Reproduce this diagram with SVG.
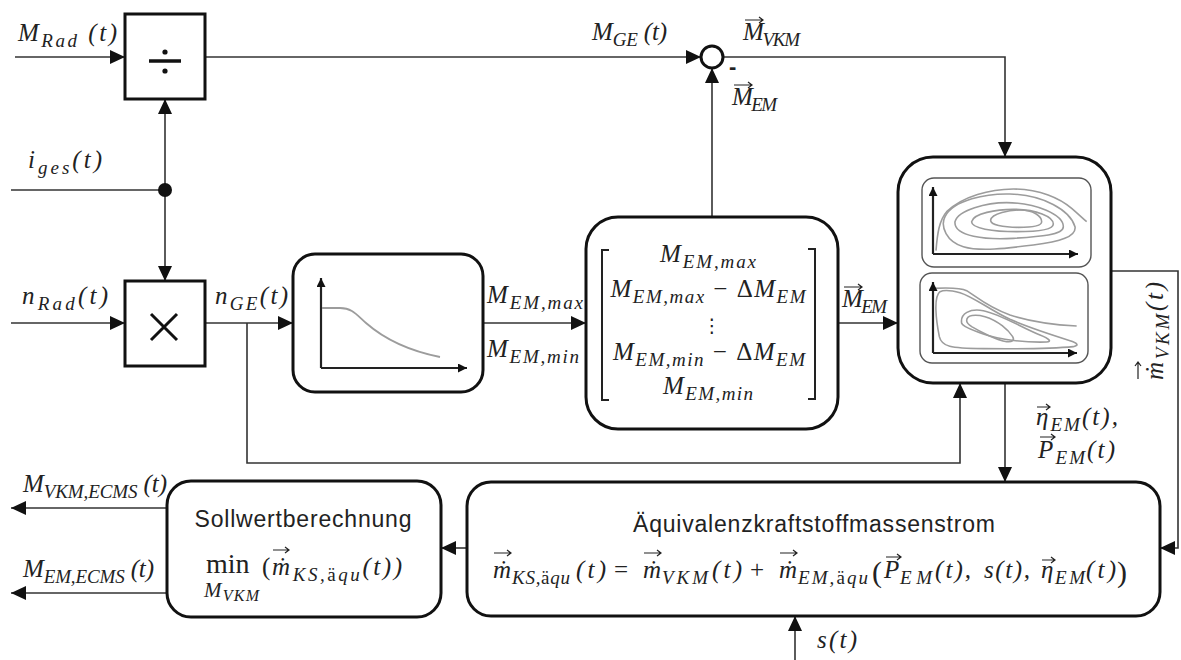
<svg xmlns="http://www.w3.org/2000/svg" width="1181" height="660" viewBox="0 0 1181 660">
  <defs>
    <marker id="ah" markerUnits="userSpaceOnUse" markerWidth="16" markerHeight="14" refX="15" refY="7" orient="auto">
      <path d="M0,0 L15,7 L0,14 Z" fill="#111"/>
    </marker>
    <marker id="as" markerUnits="userSpaceOnUse" markerWidth="10" markerHeight="9" refX="9" refY="4.5" orient="auto">
      <path d="M0,0 L9,4.5 L0,9 Z" fill="#111"/>
    </marker>
    <style>
      .box{fill:#fff;stroke:#111;stroke-width:3}
      .pan{fill:#fff;stroke:#555;stroke-width:1.4}
      .ln{fill:none;stroke:#333;stroke-width:1.6}
      .arr{marker-end:url(#ah)}
      .ax{fill:none;stroke:#222;stroke-width:2.2;marker-end:url(#as)}
      .crv{fill:none;stroke:#9c9c9c;stroke-width:1.8}
      .ct{fill:none;stroke:#9c9c9c;stroke-width:4.8}
      .mi{font-family:"Liberation Serif","DejaVu Serif",serif;font-style:italic;font-size:25px;fill:#222}
      .up{font-style:normal}
      .sb{font-size:19px}
      .big{font-size:30px}
      .sans{font-family:"Liberation Sans","DejaVu Sans",sans-serif;font-size:23px;fill:#222}
      .vec{fill:none;stroke:#222;stroke-width:1.2}
    </style>
  </defs>
  <rect width="1181" height="660" fill="#fff"/>

  <!-- signal lines -->
  <g id="connectors">
    <path class="ln arr" d="M15,57 H125"/>
    <path class="ln arr" d="M205,57 H701"/>
    <path class="ln" d="M11,190 H165"/>
    <path class="ln arr" d="M165,190 V99"/>
    <path class="ln arr" d="M165,190 V281"/>
    <circle cx="165" cy="190" r="7" fill="#111"/>
    <path class="ln arr" d="M11,323 H125"/>
    <path class="ln arr" d="M205,323 H293"/>
    <path class="ln arr" d="M247,323 V463 H960 V383"/>
    <path class="ln arr" d="M483,323 H586"/>
    <path class="ln arr" d="M712,217 V68"/>
    <path class="ln arr" d="M723,57 H1005 V157"/>
    <path class="ln arr" d="M838,323 H898"/>
    <path class="ln arr" d="M1005,383 V482"/>
    <path class="ln arr" d="M1111,271 H1178 V548 H1160"/>
    <path class="ln arr" d="M795,660 V616"/>
    <path class="ln arr" d="M467,548 H441"/>
    <path class="ln arr" d="M167,508 H11"/>
    <path class="ln arr" d="M167,593 H11"/>
  </g>

  <!-- divider -->
  <g id="divide">
    <rect class="box" x="125" y="14" width="80" height="85"/>
    <path d="M149,61 H181" stroke="#111" stroke-width="3.5"/>
    <circle cx="165" cy="52" r="2.6" fill="#111"/>
    <circle cx="165" cy="71" r="2.6" fill="#111"/>
  </g>

  <!-- multiplier -->
  <g id="multiply">
    <rect class="box" x="125" y="281" width="80" height="85"/>
    <path d="M151,314 L177,340 M177,314 L151,340" stroke="#111" stroke-width="3"/>
  </g>

  <!-- summing point -->
  <g id="sum">
    <circle cx="712" cy="57" r="11" fill="#fff" stroke="#111" stroke-width="3"/>
    <text x="729" y="74" font-family="Liberation Sans, sans-serif" font-weight="bold" font-size="22" fill="#222">-</text>
  </g>

  <!-- full-load curve -->
  <g id="limit-curve">
    <rect class="box" x="293" y="254" width="190" height="138" rx="22"/>
    <path class="ax" d="M321,368 V278"/>
    <path class="ax" d="M321,368 H467"/>
    <path class="crv" d="M322,308 L340,308 C352,308 356,314 366,323 C382,337 405,350 440,357"/>
  </g>

  <!-- torque candidate vector -->
  <g id="torque-vector">
    <rect class="box" x="586" y="217" width="252" height="212" rx="32"/>
    <path d="M609,250 H602 V400 H609 M808,249 H815 V399 H808" fill="none" stroke="#222" stroke-width="2"/>
    <text class="mi" x="708" y="262" text-anchor="middle" textLength="96" lengthAdjust="spacing">M<tspan class="sb" dy="6">EM,max</tspan></text>
    <text class="mi" x="708" y="297" text-anchor="middle" textLength="195" lengthAdjust="spacing">M<tspan class="sb" dy="6">EM,max</tspan><tspan class="up" dy="-6"> − Δ</tspan>M<tspan class="sb" dy="6">EM</tspan></text>
    <text x="712" y="332" text-anchor="middle" font-family="DejaVu Sans, sans-serif" font-size="19" fill="#222">⋮</text>
    <text class="mi" x="709" y="360" text-anchor="middle" textLength="192" lengthAdjust="spacing">M<tspan class="sb" dy="6">EM,min</tspan><tspan class="up" dy="-6"> − Δ</tspan>M<tspan class="sb" dy="6">EM</tspan></text>
    <text class="mi" x="708" y="394" text-anchor="middle" textLength="90" lengthAdjust="spacing">M<tspan class="sb" dy="6">EM,min</tspan></text>
  </g>

  <!-- efficiency / consumption maps -->
  <g id="maps">
    <rect class="box" x="898" y="157" width="213" height="226" rx="35"/>
    <rect class="pan" x="922" y="178" width="169" height="89" rx="12"/>
    <rect class="pan" x="920" y="273" width="168" height="90" rx="12"/>
    <g transform="translate(900 160) scale(0.33333)">
      <path class="ct" d="M108,272 C112,220 118,180 140,155 C190,108 270,88 340,87 C420,87 480,115 515,145 C535,162 548,175 560,185"/>
      <path class="ct" d="M135,170 C160,120 260,100 330,102 C430,105 510,150 525,200 C530,230 480,245 400,255 C320,265 240,275 190,260 C140,245 120,200 135,170 Z"/>
      <path class="ct" d="M165,185 C175,150 260,128 320,128 C410,128 490,165 490,200 C490,225 420,230 340,235 C260,240 160,230 165,185 Z"/>
      <path class="ct" d="M215,185 C220,160 290,148 340,148 C410,148 460,170 460,192 C460,210 410,215 350,215 C280,215 212,205 215,185 Z"/>
      <path class="ct" d="M272,180 C275,160 330,150 360,150 C400,150 425,168 425,185 C425,198 390,202 355,202 C310,202 270,195 272,180 Z"/>
      <path class="ct" d="M100,385 C140,383 180,382 200,392 C230,410 260,440 330,465 C400,488 470,495 530,498"/>
      <path class="ct" d="M120,395 C100,410 108,480 118,530 C125,560 150,565 250,566 C350,567 470,565 520,560 C540,556 530,548 510,542 C440,520 380,500 330,478 C270,450 220,410 180,398 C150,390 130,390 120,395 Z"/>
      <path class="ct" d="M185,490 C180,460 210,445 250,452 C300,462 360,500 420,525 C450,537 455,545 440,546 C380,548 300,540 250,522 C215,510 188,500 185,490 Z"/>
      <path class="ct" d="M200,482 C200,465 225,462 255,470 C295,482 325,510 338,530 C345,542 335,547 320,545 C290,540 240,515 215,500 C205,493 200,488 200,482 Z"/>
    </g>
    <path class="ax" d="M933,254 V187"/>
    <path class="ax" d="M933,254 H1078"/>
    <path class="ax" d="M933,353 V282"/>
    <path class="ax" d="M933,353 H1077"/>
  </g>

  <!-- setpoint calculation -->
  <g id="setpoint">
    <rect class="box" x="167" y="481" width="274" height="136" rx="24"/>
    <text class="sans" x="303" y="527" text-anchor="middle" textLength="217" lengthAdjust="spacing">Sollwertberechnung</text>
    <text class="mi up" x="206" y="573" style="font-size:28px">min</text>
    <text class="mi up" x="262" y="575">(</text>
    <text class="mi" x="272" y="575" textLength="130" lengthAdjust="spacing">ṁ<tspan class="sb" dy="6">KS,<tspan class="up">ä</tspan>qu</tspan><tspan dy="-6">(t))</tspan></text>
    <path class="vec" d="M273,550 h16 m-4,-3 l4,3 l-4,3"/>
    <text class="mi" x="204" y="597" style="font-size:21px" textLength="55" lengthAdjust="spacing">M<tspan style="font-size:16px" dy="4">VKM</tspan></text>
  </g>

  <!-- equivalent fuel mass flow -->
  <g id="equivalent-flow">
    <rect class="box" x="467" y="482" width="693" height="134" rx="24"/>
    <text class="sans" x="814" y="532" text-anchor="middle" textLength="362" lengthAdjust="spacing">Äquivalenzkraftstoffmassenstrom</text>
    <text class="mi" x="493" y="578">ṁ</text>
    <path class="vec" d="M494,553 h17 m-4,-3 l4,3 l-4,3"/>
    <text class="mi sb" x="512" y="584" textLength="58" lengthAdjust="spacing">KS,<tspan class="up">ä</tspan>qu</text>
    <text class="mi" x="576" y="578" textLength="30" lengthAdjust="spacing">(t)</text>
    <text class="mi up" x="614" y="578">=</text>
    <text class="mi" x="643" y="578">ṁ</text>
    <path class="vec" d="M644,553 h17 m-4,-3 l4,3 l-4,3"/>
    <text class="mi sb" x="662" y="584" textLength="46" lengthAdjust="spacing">VKM</text>
    <text class="mi" x="712" y="578" textLength="30" lengthAdjust="spacing">(t)</text>
    <text class="mi up" x="750" y="578">+</text>
    <text class="mi" x="779" y="578">ṁ</text>
    <path class="vec" d="M780,553 h17 m-4,-3 l4,3 l-4,3"/>
    <text class="mi sb" x="798" y="584" textLength="70" lengthAdjust="spacing">EM,<tspan class="up">ä</tspan>qu</text>
    <text class="mi up big" x="872" y="582">(</text>
    <text class="mi" x="884" y="578">P</text>
    <path class="vec" d="M886,557 h15 m-4,-3 l4,3 l-4,3"/>
    <text class="mi sb" x="900" y="584" textLength="32" lengthAdjust="spacing">EM</text>
    <text class="mi" x="935" y="578" textLength="36" lengthAdjust="spacing">(t),</text>
    <text class="mi" x="984" y="578" textLength="46" lengthAdjust="spacing">s(t),</text>
    <text class="mi" x="1041" y="578">η</text>
    <path class="vec" d="M1042,560 h13 m-4,-3 l4,3 l-4,3"/>
    <text class="mi sb" x="1055" y="584" textLength="30" lengthAdjust="spacing">EM</text>
    <text class="mi" x="1086" y="578" textLength="30" lengthAdjust="spacing">(t)</text>
    <text class="mi up big" x="1117" y="582">)</text>
  </g>

  <!-- signal labels -->
  <g id="labels">
    <text class="mi" x="18" y="41" textLength="99" lengthAdjust="spacing">M<tspan class="sb" dy="6">Rad</tspan><tspan dy="-6"> (t)</tspan></text>
    <text class="mi" x="28" y="168" textLength="74" lengthAdjust="spacing">i<tspan class="sb" dy="6">ges</tspan><tspan dy="-6">(t)</tspan></text>
    <text class="mi" x="592" y="40" textLength="75" lengthAdjust="spacing">M<tspan class="sb" dy="6">GE</tspan><tspan dy="-6"> (t)</tspan></text>
    <text class="mi" x="743" y="40" textLength="57" lengthAdjust="spacing">M<tspan class="sb" dy="6">VKM</tspan></text>
    <path class="vec" d="M745,20 h18 m-4,-3 l4,3 l-4,3"/>
    <text class="mi" x="732" y="105" textLength="45" lengthAdjust="spacing">M<tspan class="sb" dy="6">EM</tspan></text>
    <path class="vec" d="M734,85 h18 m-4,-3 l4,3 l-4,3"/>
    <text class="mi" x="22" y="304" textLength="86" lengthAdjust="spacing">n<tspan class="sb" dy="6">Rad</tspan><tspan dy="-6">(t)</tspan></text>
    <text class="mi" x="215" y="304" textLength="73" lengthAdjust="spacing">n<tspan class="sb" dy="6">GE</tspan><tspan dy="-6">(t)</tspan></text>
    <text class="mi" x="487" y="303" textLength="96" lengthAdjust="spacing">M<tspan class="sb" dy="6">EM,max</tspan></text>
    <text class="mi" x="487" y="357" textLength="92" lengthAdjust="spacing">M<tspan class="sb" dy="6">EM,min</tspan></text>
    <text class="mi" x="842" y="307" textLength="45" lengthAdjust="spacing">M<tspan class="sb" dy="6">EM</tspan></text>
    <path class="vec" d="M844,287 h18 m-4,-3 l4,3 l-4,3"/>
    <g transform="translate(1163 380) rotate(-90)">
      <text class="mi" x="0" y="0" textLength="98" lengthAdjust="spacing">ṁ<tspan class="sb" dy="6">VKM</tspan><tspan dy="-6">(t)</tspan></text>
      <path class="vec" d="M1,-25 h17 m-4,-3 l4,3 l-4,3"/>
    </g>
    <text class="mi" x="1036" y="425" textLength="82" lengthAdjust="spacing">η<tspan class="sb" dy="6">EM</tspan><tspan dy="-6">(t),</tspan></text>
    <path class="vec" d="M1037,407 h13 m-4,-3 l4,3 l-4,3"/>
    <text class="mi" x="1038" y="458" textLength="77" lengthAdjust="spacing">P<tspan class="sb" dy="6">EM</tspan><tspan dy="-6">(t)</tspan></text>
    <path class="vec" d="M1040,437 h15 m-4,-3 l4,3 l-4,3"/>
    <text class="mi" x="23" y="492" textLength="144" lengthAdjust="spacing">M<tspan class="sb" dy="6">VKM,ECMS</tspan><tspan dy="-6"> (t)</tspan></text>
    <text class="mi" x="23" y="577" textLength="131" lengthAdjust="spacing">M<tspan class="sb" dy="6">EM,ECMS</tspan><tspan dy="-6"> (t)</tspan></text>
    <text class="mi" x="817" y="648" textLength="40" lengthAdjust="spacing">s(t)</text>
  </g>
</svg>
